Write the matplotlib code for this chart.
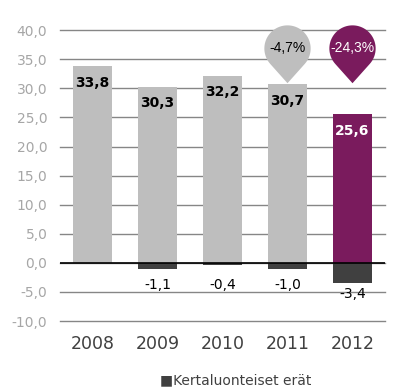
import matplotlib.pyplot as plt
import numpy as np
from matplotlib.path import Path

years = ['2008', '2009', '2010', '2011', '2012']
main = [33.8, 30.3, 32.2, 30.7, 25.6]
oneoff = [0.0, -1.1, -0.4, -1.0, -3.4]
changes = ['-4,7%', '-24,3%']   # for 2011 and 2012
yticks = [-10, -5, 0, 5, 10, 15, 20, 25, 30, 35, 40]

grey = '#bebebe'
purple = '#7a1b5d'
dark = '#404040'

# teardrop marker: unit circle with a point below
d = 1.5
a0 = np.arccos(1 / d)
ang = np.linspace(-np.pi / 2 + a0, 3 * np.pi / 2 - a0, 60)
verts = [(0, -d)] + list(zip(np.cos(ang), np.sin(ang))) + [(0, -d)]
drop = Path(verts, [Path.MOVETO] + [Path.LINETO] * (len(verts) - 2) + [Path.CLOSEPOLY])

fig = plt.figure(figsize=(4.1, 3.92), dpi=100)
ax = fig.add_axes([0.146, 0.181, 0.793, 0.742])
x = np.arange(len(years))
cols = [grey] * 4 + [purple]

ax.bar(x, main, width=0.6, color=cols, zorder=2)
ax.bar(x, oneoff, width=0.6, color=dark, zorder=2)

for i in range(len(years)):
    c = 'white' if i == 4 else 'black'
    ax.annotate(('%.1f' % main[i]).replace('.', ','), (x[i], main[i]), xytext=(0, -12),
                textcoords='offset points', ha='center', va='center',
                fontsize=10, fontweight='bold', color=c, zorder=4)
    if oneoff[i] != 0:
        ax.annotate(('%.1f' % oneoff[i]).replace('.', ','), (x[i], min(oneoff[i], -1.8)),
                    xytext=(0, -3), textcoords='offset points', ha='center', va='top',
                    fontsize=10, color='black', zorder=4)

# change bubbles
for j, lab in enumerate(changes):
    i = 3 + j
    c = grey if j == 0 else purple
    tc = 'black' if j == 0 else 'white'
    ax.plot(x[i], 36.9, marker=drop, markersize=50, color=c, mec='none', clip_on=False, zorder=3)
    ax.text(x[i], 36.9, lab, ha='center', va='center', fontsize=10, color=tc, zorder=5,
            family='Liberation Sans')

ax.set_ylim(-10, 40)
ax.set_xlim(-0.5, 4.5)
ax.set_yticks(yticks)
ax.set_yticklabels([('%.1f' % t).replace('.', ',') for t in yticks], color='#a6a6a6', fontsize=10)
ax.set_xticks(x)
ax.set_xticklabels(years, fontsize=12.5, color=dark)
ax.tick_params(length=0)
ax.tick_params(axis='y', pad=9)
ax.tick_params(axis='x', pad=10)
for s in ax.spines.values():
    s.set_visible(False)
ax.grid(axis='y', color='#868686', lw=1, zorder=0)
for gl in ax.get_ygridlines():
    gl.set_clip_on(False)
ax.axhline(0, color='black', lw=1.2, zorder=3)

fig.text(0.39, 0.03, '\u25a0Kertaluonteiset erät', color=dark, fontsize=10, va='center', ha='left')

fig.savefig('out.png', dpi=100)
